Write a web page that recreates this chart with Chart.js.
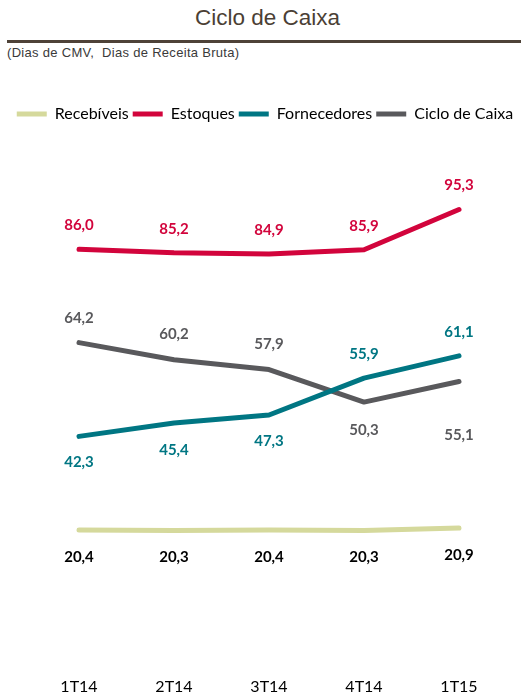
<!DOCTYPE html>
<html>
<head>
<meta charset="utf-8">
<script src="https://cdn.jsdelivr.net/npm/chart.js@4.4.1/dist/chart.umd.min.js"></script>
<style>
  body { margin: 0; background: #fff; width: 521px; height: 693px; overflow: hidden; position: relative; }
  #title { position: absolute; top: 5px; left: 0; width: 535px; text-align: center; font: 22.5px "Liberation Sans", Arial, sans-serif; color: #4b3f35; }
  #rule { position: absolute; top: 40px; left: 7px; width: 514px; height: 3px; background: #4e4238; }
  #sub { position: absolute; top: 45px; left: 7px; font: 13px "Liberation Sans", Arial, sans-serif; letter-spacing: 0.3px; color: #3a3a3a; }
  #wrap { position: absolute; top: 90px; left: 0; width: 521px; height: 608px; }
</style>
</head>
<body>
<div id="title">Ciclo de Caixa</div>
<div id="rule"></div>
<div id="sub">(Dias de CMV,&nbsp; Dias de Receita Bruta)</div>
<div id="wrap"><canvas id="lineGraph" width="521" height="608"></canvas></div>
<script>
// Data
var quarters = ['1T14', '2T14', '3T14', '4T14', '1T15'];
var recebiveis = [20.4, 20.3, 20.4, 20.3, 20.9];
var estoques = [86.0, 85.2, 84.9, 85.9, 95.3];
var fornecedores = [42.3, 45.4, 47.3, 55.9, 61.1];
var cicloCaixa = [64.2, 60.2, 57.9, 50.3, 55.1];

// Label placement (pixels from the point, negative = above)
var recebiveisOffsets = [27, 27, 27, 27, 27];
var estoquesOffsets = [-24, -24, -24, -24, -24];
var fornecedoresOffsets = [26, 27, 26, -24, -24];
var cicloOffsets = [-24, -26, -25, 28, 54];

// Draw the value labels next to each point
var valueLabels = {
    id: 'valueLabels',
    afterDatasetsDraw: function(chart) {
        var ctx = chart.ctx;
        ctx.save();
        ctx.font = 'bold 15px Lato, "Open Sans", sans-serif';
        ctx.textAlign = 'center';
        ctx.textBaseline = 'middle';
        chart.data.datasets.forEach(function(ds, i) {
            var meta = chart.getDatasetMeta(i);
            meta.data.forEach(function(pt, j) {
                ctx.fillStyle = ds.labelColor;
                ctx.fillText(ds.data[j].toFixed(1).replace('.', ','), pt.x, pt.y + ds.offsets[j]);
            });
        });
        ctx.restore();
    }
};

// Invisible side axes that only reserve room, so the legend can use the full width
function fixedWidth(w) {
    return function(scale) { scale.width = w; };
}

var canvas = document.getElementById('lineGraph');

var lineGraph = new Chart(canvas, {
    type: 'line',
    data: {
        labels: quarters,
        datasets: [{
            label: 'Recebíveis',
            data: recebiveis,
            borderColor: '#d5d99c',
            backgroundColor: '#d5d99c',
            labelColor: '#000000',
            offsets: recebiveisOffsets
        }, {
            label: 'Estoques',
            data: estoques,
            borderColor: '#d2043c',
            backgroundColor: '#d2043c',
            labelColor: '#d2043c',
            offsets: estoquesOffsets
        }, {
            label: 'Fornecedores',
            data: fornecedores,
            borderColor: '#007683',
            backgroundColor: '#007683',
            labelColor: '#007683',
            offsets: fornecedoresOffsets
        }, {
            label: 'Ciclo de Caixa',
            data: cicloCaixa,
            borderColor: '#59595c',
            backgroundColor: '#59595c',
            labelColor: '#59595c',
            offsets: cicloOffsets
        }]
    },
    options: {
        responsive: false,
        animation: false,
        devicePixelRatio: 1,
        datasets: {
            line: {
                borderWidth: 5,
                tension: 0,
                pointRadius: 0,
                borderCapStyle: 'round',
                borderJoinStyle: 'round'
            }
        },
        layout: {
            padding: { top: 12, left: 9, right: 0, bottom: 0 }
        },
        scales: {
            x: {
                offset: true,
                grid: { display: false, drawTicks: false },
                border: { display: false },
                ticks: {
                    color: '#000000',
                    padding: 2,
                    font: { family: 'Lato, "Open Sans", sans-serif', size: 16 }
                }
            },
            y: {
                position: 'left',
                min: -13.4,
                max: 113.4,
                grid: { display: false, drawTicks: false },
                border: { display: false },
                ticks: { display: false },
                afterFit: fixedWidth(22.5)
            },
            yRight: {
                position: 'right',
                min: 0,
                max: 1,
                grid: { display: false, drawTicks: false },
                border: { display: false },
                ticks: { display: false },
                afterFit: fixedWidth(14.5)
            }
        },
        plugins: {
            legend: {
                labels: {
                    usePointStyle: true,
                    pointStyle: 'line',
                    pointStyleWidth: 30,
                    padding: 4,
                    color: '#000000',
                    font: { family: 'Lato, "Open Sans", sans-serif', size: 16 }
                }
            },
            tooltip: { enabled: false }
        }
    },
    plugins: [valueLabels]
});
</script>
</body>
</html>
